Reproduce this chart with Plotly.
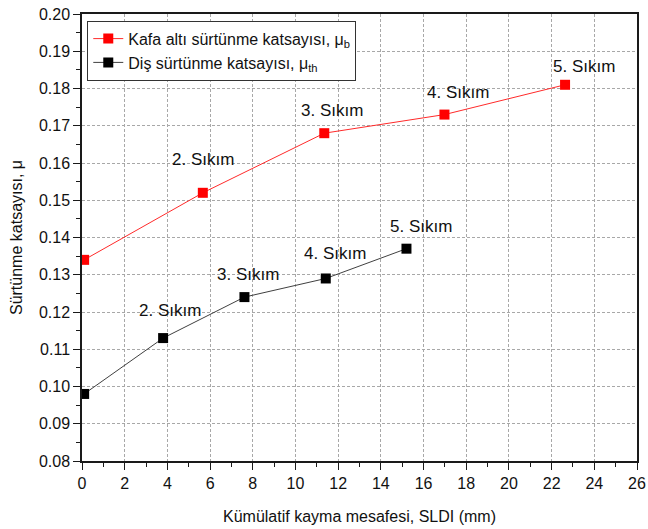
import plotly.graph_objects as go

# Cumulative sliding distance (mm) and friction coefficients per tightening
stages = ["1. Sıkım", "2. Sıkım", "3. Sıkım", "4. Sıkım", "5. Sıkım"]
sldi_head = [0.1, 5.66, 11.35, 16.98, 22.63]
mu_head = [0.134, 0.152, 0.168, 0.173, 0.181]
sldi_thread = [0.1, 3.8, 7.61, 11.42, 15.2]
mu_thread = [0.098, 0.113, 0.124, 0.129, 0.137]

x_ticks = list(range(0, 27, 2))
y_ticks = [round(0.08 + 0.01 * i, 2) for i in range(13)]

FONT = "Liberation Sans, Arial, sans-serif"
INK = "#111111"

fig = go.Figure()
fig.add_trace(go.Scatter(
    x=sldi_head, y=mu_head, mode="lines+markers",
    name="Kafa altı sürtünme katsayısı, μ<sub>b</sub>",
    line=dict(color="#ff2a2a", width=1),
    marker=dict(symbol="square", size=10, color="#ff0000"),
))
fig.add_trace(go.Scatter(
    x=sldi_thread, y=mu_thread, mode="lines+markers",
    name="Diş sürtünme katsayısı, μ<sub>th</sub>",
    line=dict(color="#404040", width=1),
    marker=dict(symbol="square", size=10, color="#000000"),
))

# Stage labels above points 2..5 of each series
head_shift = [(0, 33), (8, 23), (14, 22), (19, 18)]
thread_shift = [(7, 28), (4, 23), (9, 25), (15, 22)]
for i, (dx, dy) in enumerate(head_shift, start=1):
    fig.add_annotation(x=sldi_head[i], y=mu_head[i], text=stages[i],
                       showarrow=False, xshift=dx, yshift=dy,
                       font=dict(size=17, color=INK, family=FONT))
for i, (dx, dy) in enumerate(thread_shift, start=1):
    fig.add_annotation(x=sldi_thread[i], y=mu_thread[i], text=stages[i],
                       showarrow=False, xshift=dx, yshift=dy,
                       font=dict(size=17, color=INK, family=FONT))

axis_common = dict(
    automargin=False,
    showline=True, linecolor="#1a1a1a", linewidth=1.5, mirror=True,
    ticks="outside", ticklen=7, tickwidth=1.2, tickcolor="#1a1a1a",
    showgrid=True, gridcolor="#a8a8a8", gridwidth=1, griddash="3px,2px",
    zeroline=False, tickfont=dict(size=16, color=INK, family=FONT),
)

fig.update_xaxes(
    range=[0, 26], tickvals=x_ticks, ticktext=[str(v) for v in x_ticks],
    minor=dict(dtick=1, ticks="outside", ticklen=4, tickcolor="#1a1a1a", showgrid=False),
    title=dict(text="Kümülatif kayma mesafesi, SLDI (mm)",
               font=dict(size=16, color=INK, family=FONT), standoff=20),
    **axis_common,
)
fig.update_yaxes(
    range=[0.08, 0.20], tickvals=y_ticks, ticktext=[f"{v:.2f}" for v in y_ticks],
    minor=dict(dtick=0.005, tick0=0.08, ticks="outside", ticklen=4, tickcolor="#1a1a1a", showgrid=False),
    title=dict(text="Sürtünme katsayısı, μ",
               font=dict(size=16, color=INK, family=FONT), standoff=12),
    **axis_common,
)

fig.update_layout(
    template="none",
    width=648, height=529,
    margin=dict(l=82, r=11, t=14, b=68),
    paper_bgcolor="white", plot_bgcolor="white",
    showlegend=True,
    legend=dict(x=0.0095, y=0.985, xanchor="left", yanchor="top",
                bgcolor="white", bordercolor="#333333", borderwidth=1,
                font=dict(size=16, color=INK, family=FONT),
                itemwidth=30, tracegroupgap=0),
    font=dict(family=FONT),
)

fig.write_html("out.html")
